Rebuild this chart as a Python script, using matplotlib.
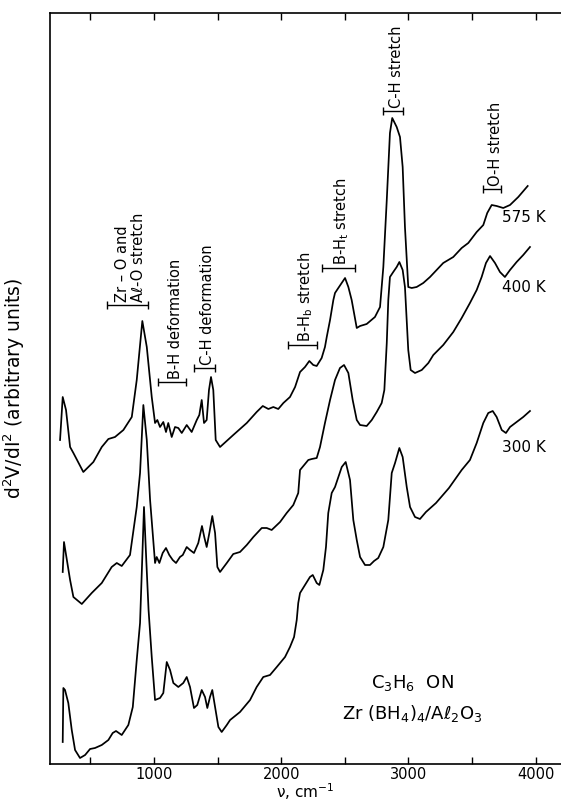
"""Second-derivative IETS spectra of C3H6 on Zr(BH4)4/Al2O3 at three temperatures."""
import numpy as np
import matplotlib
matplotlib.use("Agg")
import matplotlib.pyplot as plt

plt.rcParams.update({
    "font.family": ["DejaVu Sans"],
    "axes.linewidth": 1.2,
    "mathtext.default": "regular",
})

# --- spectra (wavenumber in cm-1, signal in arbitrary units) ---
wn_575 = [261, 282, 308, 340, 366, 444, 523, 589, 641, 693, 759, 825, 864, 908,
          943, 982, 1008, 1026, 1047, 1073, 1094, 1112, 1139, 1165, 1191, 1218,
          1257, 1296, 1336, 1356, 1375, 1393, 1414, 1432, 1448, 1466, 1485, 1519,
          1623, 1729, 1807, 1855, 1899, 1938, 1977, 2017, 2069, 2109, 2148, 2187,
          2221, 2252, 2279, 2318, 2344, 2358, 2384, 2410, 2423, 2449, 2502, 2528,
          2554, 2594, 2620, 2672, 2737, 2777, 2803, 2830, 2855, 2873, 2908, 2934,
          2955, 2973, 2999, 3026, 3065, 3117, 3170, 3274, 3353, 3419, 3471, 3537,
          3589, 3620, 3655, 3694, 3746, 3799, 3864, 3938]
sig_575 = [324, 367, 354, 317, 311, 292, 302, 317, 325, 327, 334, 347, 384, 443,
           417, 367, 341, 344, 337, 342, 332, 341, 327, 337, 336, 331,
           339, 332, 344, 349, 364, 341, 344, 374, 387, 374, 324, 317,
           329, 341, 352, 358, 355, 357, 355, 361, 367, 377, 392, 397,
           403, 399, 398, 406, 417, 427, 444, 464, 471, 476, 486, 477,
           464, 436, 438, 440, 447, 457, 497, 564, 631, 646, 637, 627,
           597, 537, 477, 476, 477, 481, 487, 501, 507, 516, 521, 532,
           539, 551, 559, 558, 556, 559, 567, 578]

wn_400 = [282, 292, 340, 366, 432, 510, 589, 667, 707, 746, 811, 864, 890, 916,
          943, 969, 1008, 1021, 1042, 1068, 1094, 1120, 1147, 1173, 1204, 1226,
          1257, 1283, 1314, 1348, 1377, 1395, 1414, 1435, 1458, 1480, 1498, 1519,
          1572, 1623, 1676, 1729, 1781, 1847, 1886, 1925, 1991, 2043, 2095, 2134,
          2148, 2213, 2240, 2279, 2305, 2344, 2384, 2423, 2462, 2494, 2528, 2562,
          2594, 2620, 2672, 2712, 2751, 2790, 2811, 2830, 2842, 2855, 2881, 2908,
          2929, 2955, 2973, 2999, 3018, 3052, 3105, 3157, 3196, 3274, 3353, 3419,
          3484, 3537, 3576, 3610, 3642, 3681, 3720, 3759, 3799, 3851, 3903, 3956]
sig_400 = [192, 222, 184, 167, 160, 171, 181, 197, 201, 198, 209, 257, 291, 359,
           324, 264, 201, 207, 201, 211, 216, 209, 204, 201, 207, 209,
           217, 214, 211, 221, 238, 227, 217, 231, 248, 231, 197, 192,
           201, 210, 212, 219, 227, 236, 236, 234, 242, 251, 259, 271,
           294, 304, 305, 306, 317, 341, 364, 384, 396, 399, 391, 364,
           344, 339, 338, 344, 352, 361, 374, 421, 464, 487, 492, 497,
           502, 494, 477, 414, 394, 391, 394, 401, 409, 419, 432, 446,
           461, 474, 487, 501, 508, 501, 492, 487, 494, 502, 509, 517]

wn_300 = [282, 287, 300, 326, 353, 379, 418, 458, 497, 536, 589, 641, 675, 701,
          746, 798, 833, 864, 890, 907, 921, 939, 957, 982, 1008, 1047, 1073,
          1100, 1126, 1152, 1191, 1230, 1257, 1283, 1314, 1340, 1375, 1401, 1419,
          1440, 1458, 1480, 1506, 1532, 1572, 1598, 1676, 1755, 1807, 1859, 1912,
          1965, 2030, 2069, 2101, 2122, 2134, 2148, 2187, 2226, 2248, 2279, 2300,
          2331, 2352, 2370, 2397, 2423, 2476, 2507, 2541, 2554, 2567, 2594, 2620,
          2659, 2698, 2730, 2763, 2803, 2842, 2869, 2895, 2929, 2955, 2987, 3013,
          3052, 3091, 3138, 3217, 3319, 3419, 3484, 3537, 3589, 3628, 3663, 3694,
          3734, 3767, 3799, 3851, 3903, 3956]
sig_300 = [22, 76, 74, 61, 34, 14, 6, 9, 15, 16, 19, 24, 31, 33,
           29, 39, 57, 104, 141, 204, 257, 204, 154, 107, 64, 66, 71,
           102, 94, 81, 77, 81, 87, 77, 56, 59, 74, 67, 56,
           67, 74, 57, 37, 32, 39, 44, 52, 64, 77, 87, 89,
           97, 107, 117, 127, 144, 161, 171, 179, 187, 189, 181, 179,
           194, 217, 251, 271, 277, 297, 302, 284, 264, 244, 224, 207,
           199, 199, 203, 206, 217, 244, 291, 301, 316, 307, 277, 257,
           247, 245, 252, 261, 276, 294, 304, 321, 341, 351, 353, 347,
           334, 331, 337, 342, 347, 353]

temps = ["575 K", "400 K", "300 K"]
temp_label_wn = [3734, 3734, 3734]
temp_label_sig = [546, 477, 317]

# --- band assignments: bracket span (cm-1) and height ---
band_text = ["Zr – O and\nAℓ-O stretch", "B-H deformation", "C-H deformation",
             "B-H$_b$ stretch", "B-H$_t$ stretch", "C-H stretch", "O-H stretch"]
band_lo = [628, 1034, 1314, 2056, 2318, 2798, 3589]
band_hi = [955, 1252, 1480, 2279, 2580, 2960, 3732]
band_sig = [459, 382, 396, 419, 496, 653, 575]

tick_vals = [500, 1000, 1500, 2000, 2500, 3000, 3500, 4000]
tick_text = ["", "1000", "", "2000", "", "3000", "", "4000"]

W, H = 561, 806
fig = plt.figure(figsize=(W / 100, H / 100), dpi=100)
ax = fig.add_axes([50 / W, 42 / H, 511 / W, 751 / H])

for wn, sig in ((wn_575, sig_575), (wn_400, sig_400), (wn_300, sig_300)):
    ax.plot(wn, sig, color="black", lw=1.25, solid_joinstyle="round")

for lab, x, y in zip(temps, temp_label_wn, temp_label_sig):
    ax.text(x, y, lab, ha="left", va="center", fontsize=11)

for txt, lo, hi, y in zip(band_text, band_lo, band_hi, band_sig):
    mid = 0.5 * (lo + hi)
    ax.errorbar(mid, y, xerr=0.5 * (hi - lo), fmt="none", ecolor="black",
                elinewidth=1.0, capsize=3, capthick=1.0)
    ax.text(mid + 25, y + 3, txt, rotation=90, ha="center", va="bottom",
            fontsize=10.5, multialignment="left", linespacing=1.1)

ax.text(3028, 81, "C$_3$H$_6$  ON", ha="center", va="center", fontsize=13)
ax.text(3028, 50, "Zr (BH$_4$)$_4$/Aℓ$_2$O$_3$", ha="center", va="center",
        fontsize=13)

ax.set_xlim(182, 4200)
ax.set_ylim(0, 751)
ax.set_yticks([])
ax.set_xticks(tick_vals, tick_text)
ax.tick_params(axis="x", direction="in", top=True, length=5, width=1.0,
               labelsize=10.5, pad=2)
ax.spines["right"].set_visible(False)
ax.set_xlabel("ν, cm$^{-1}$", fontsize=11)
ax.xaxis.set_label_coords(0.5, -0.023)
ax.set_ylabel("d$^2$V/dI$^2$ (arbitrary units)", fontsize=13.5)
ax.yaxis.set_label_coords(-0.045, 0.50)

fig.savefig("out.png", dpi=100)
